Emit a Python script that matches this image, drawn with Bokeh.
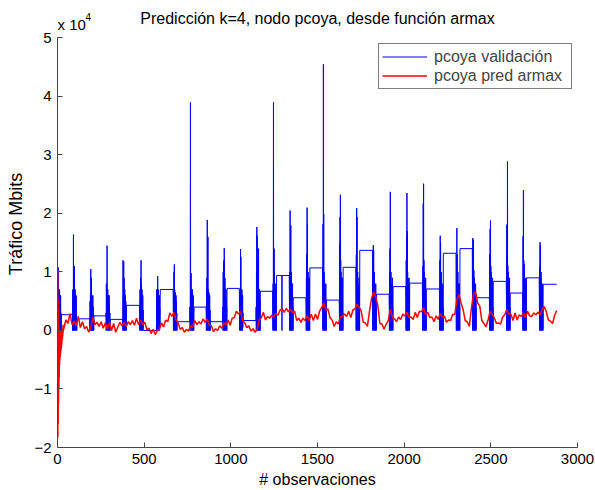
from bokeh.plotting import figure
from bokeh.models import Range1d, FixedTicker, Legend, LegendItem, Label
from bokeh.embed import file_html
from bokeh.resources import INLINE

# ---------------- data (values in units of 10^4 Mbits) ----------------
N_OBS = 2880

# start observation of each daily burst in the validation series
burst_start = [0, 86, 186, 280, 376, 474, 572, 668, 764, 858,
               954, 1050, 1146, 1242, 1338, 1434, 1530, 1626, 1722, 1818,
               1914, 2010, 2106, 2204, 2300, 2394, 2492, 2590, 2684, 2780]

# values inside each burst (one per observation)
burst_vals = [
    [0.35, 0.0, 0.75, 0.1, 1.08, 0.0, 0.6, 0.05, 0.7, 0.0, 0.5, 0.1, 0.7, 0.0, 0.4, 0.05, 0.5, 0.0, 0.6, 0.05, 0.3, 0.0],
    [0.3, 0.0, 0.7, 0.1, 0.55, 0.0, 1.64, 0.05, 0.6, 0.0, 0.5, 0.1, 1.1, 0.0, 0.6, 0.05, 0.7, 0.0, 0.5, 0.1, 0.55, 0.0, 0.6, 0.05, 0.3, 0.0],
    [0.2, 0.0, 0.5, 0.05, 0.6, 0.0, 1.05, 0.1, 0.5, 0.0, 0.9, 0.05, 0.6, 0.0, 0.5, 0.1, 0.45, 0.0, 0.6, 0.05, 0.4, 0.0, 0.3, 0.0],
    [0.3, 0.0, 0.8, 0.05, 0.5, 0.0, 1.45, 0.1, 0.6, 0.0, 0.7, 0.05, 0.45, 0.0, 0.6, 0.1, 0.5, 0.0, 0.6, 0.05, 0.4, 0.0, 0.3, 0.0],
    [0.2, 0.0, 1.2, 0.1, 0.6, 0.0, 1.18, 0.05, 0.9, 0.0, 0.6, 0.1, 0.7, 0.0, 0.5, 0.05, 0.6, 0.0, 0.5, 0.05, 0.4, 0.0],
    [0.3, 0.0, 0.7, 0.05, 0.5, 0.0, 0.9, 0.1, 1.2, 0.0, 0.8, 0.05, 0.6, 0.0, 0.7, 0.05, 0.5, 0.0, 0.6, 0.05, 0.35, 0.0],
    [0.7, 0.0, 0.5, 0.05, 0.7, 0.0, 0.93, 0.05, 0.6, 0.0, 0.7, 0.1, 0.6, 0.0, 0.5, 0.05, 0.6, 0.0, 0.4, 0.05, 0.3],
    [0.3, 0.0, 0.6, 0.1, 1.0, 0.0, 1.13, 0.05, 0.7, 0.0, 0.6, 0.1, 0.65, 0.0, 0.5, 0.05, 0.6, 0.0, 0.5, 0.05, 0.3, 0.0],
    [0.4, 0.0, 0.6, 3.9, 0.1, 0.5, 0.0, 0.98, 0.05, 0.6, 0.0, 0.7, 0.1, 0.6, 0.0, 0.7, 0.05, 0.5, 0.0, 0.6, 0.05, 0.4, 0.0, 0.3],
    [0.3, 0.0, 0.68, 0.05, 0.9, 0.0, 1.89, 0.1, 0.7, 0.0, 1.6, 0.05, 0.7, 0.0, 0.6, 0.1, 0.65, 0.0, 0.5, 0.05, 0.6, 0.0, 0.35, 0.0],
    [0.4, 0.0, 1.0, 0.05, 1.15, 0.0, 1.2, 0.1, 1.41, 0.0, 0.8, 0.05, 0.9, 0.0, 0.7, 0.05, 0.6, 0.0, 0.7, 0.05, 0.5, 0.0, 0.4, 0.0],
    [0.3, 0.0, 0.55, 0.1, 0.7, 0.0, 1.39, 0.05, 1.26, 0.0, 0.7, 0.1, 0.6, 0.0, 0.7, 0.05, 0.5, 0.0, 0.6, 0.05, 0.3],
    [0.4, 0.0, 1.0, 0.05, 1.77, 0.0, 1.62, 0.1, 1.2, 0.0, 0.8, 0.05, 0.9, 0.0, 1.4, 0.1, 0.7, 0.0, 0.6, 0.05, 0.7, 0.0, 0.5, 0.0],
    [0.3, 0.0, 0.8, 0.05, 3.9, 0.0, 0.9, 0.1, 1.4, 0.0, 1.0, 0.05, 0.8, 0.0, 0.7, 0.05, 0.6, 0.0, 0.8, 0.05, 0.5, 0.0],
    [0.5, 0.0, 1.0, 0.05, 2.05, 0.0, 1.4, 0.1, 1.8, 0.0, 0.9, 0.05, 1.0, 0.0, 0.8, 0.05, 0.6, 0.0, 0.8, 0.05, 0.4, 0.0],
    [0.4, 0.0, 0.9, 0.05, 1.3, 0.0, 2.1, 0.1, 1.82, 0.0, 0.9, 0.05, 1.0, 0.0, 0.8, 0.05, 0.6, 0.0, 0.9, 0.05, 0.4, 0.0],
    [0.5, 0.0, 1.82, 0.05, 4.55, 0.0, 1.99, 0.1, 1.0, 0.0, 0.9, 0.05, 0.8, 0.0, 0.7, 0.05, 0.5, 0.0, 0.8, 0.05, 0.3, 0.0],
    [0.4, 0.0, 1.48, 0.05, 1.94, 0.0, 2.32, 0.1, 1.2, 0.0, 1.0, 0.05, 0.9, 0.0, 0.8, 0.05, 0.6, 0.0, 0.9, 0.05, 0.3, 0.0],
    [0.5, 0.0, 1.3, 0.05, 2.09, 0.0, 1.94, 0.1, 0.9, 0.0, 1.0, 0.05, 0.8, 0.0, 0.7, 0.05, 0.5, 0.0, 0.9, 0.05, 0.4, 0.0],
    [0.6, 0.0, 1.1, 0.05, 1.46, 0.0, 1.37, 0.1, 0.9, 0.0, 1.0, 0.05, 0.8, 0.0, 0.6, 0.05, 0.5, 0.0, 0.8, 0.05, 0.4, 0.0],
    [0.4, 0.0, 1.0, 0.05, 1.4, 0.0, 2.37, 0.1, 0.9, 0.0, 1.0, 0.05, 0.8, 0.0, 0.7, 0.05, 0.5, 0.0, 0.9, 0.05, 0.4, 0.0],
    [0.5, 0.0, 1.2, 0.05, 1.62, 0.0, 2.35, 0.1, 1.7, 0.0, 1.0, 0.05, 0.9, 0.0, 0.8, 0.05, 0.6, 0.0, 0.9, 0.05, 0.4, 0.0],
    [0.4, 0.0, 1.1, 0.05, 2.17, 0.0, 2.51, 0.1, 1.2, 0.0, 1.0, 0.05, 0.9, 0.0, 0.7, 0.05, 0.5, 0.0, 0.9, 0.05, 0.5, 0.0],
    [0.6, 0.0, 1.2, 0.05, 1.62, 0.0, 1.49, 0.1, 0.9, 0.0, 1.0, 0.05, 0.8, 0.0, 0.6, 0.05, 0.4, 0.0, 0.8, 0.05, 0.4, 0.0],
    [0.5, 0.0, 1.0, 0.05, 1.75, 0.0, 1.3, 0.1, 0.8, 0.0, 1.0, 0.05, 0.8, 0.0, 0.6, 0.05, 0.4, 0.0, 0.8, 0.05, 0.4, 0.0],
    [0.6, 0.0, 1.58, 0.05, 1.2, 0.0, 1.55, 0.1, 1.03, 0.0, 0.9, 0.05, 0.8, 0.0, 0.7, 0.05, 0.5, 0.0, 0.8, 0.05, 0.4, 0.0],
    [0.5, 0.0, 1.3, 0.05, 1.74, 0.0, 1.88, 0.1, 1.1, 0.0, 1.0, 0.05, 0.8, 0.0, 0.7, 0.05, 0.5, 0.0, 0.9, 0.05, 0.4, 0.0],
    [0.6, 0.0, 1.81, 0.05, 1.3, 0.0, 2.89, 0.1, 1.11, 0.0, 1.0, 0.05, 0.9, 0.0, 0.8, 0.05, 0.5, 0.0, 0.9, 0.05, 0.4, 0.0],
    [0.5, 0.0, 1.61, 0.05, 2.4, 0.0, 1.2, 0.1, 1.14, 0.0, 1.0, 0.05, 0.9, 0.0, 0.8, 0.05, 0.5, 0.0, 0.9, 0.05, 0.4, 0.0],
    [0.5, 0.0, 1.1, 0.05, 1.51, 0.0, 1.44, 0.1, 0.9, 0.0, 1.0, 0.05, 0.8, 0.0, 0.6, 0.05, 0.4, 0.0, 0.8, 0.05, 0.4, 0.0],
]

# level held after each burst until the next one
plateau = [0.27, 0.20, 0.25, 0.19, 0.43, 0.0, 0.70, 0.15, 0.40, 0.15,
           0.72, 0.17, 0.67, 0.94, 0.56, 1.07, 0.52, 1.08, 1.37, 0.62,
           0.75, 0.81, 0.71, 1.32, 1.40, 0.56, 0.84, 0.64, 0.90, 0.79]

# isolated drops inside a plateau: day -> [(obs, value), ...]
plateau_drops = {13: [(1294, 0.94), (1295, 0.0), (1296, 0.94)]}

# ARMAX prediction: first observations (obs 0..35), then every 12 obs from 36 to 2880
red_head = [0.3, 1.0, -1.83, 0.55, -1.6, 0.4, -1.25, 0.1, -1.0, 0.0, -0.8, -0.05,
            -0.6, 0.0, -0.5, -0.1, -0.45, 0.0, -0.4, -0.05, -0.35, -0.1, -0.3, 0.0,
            -0.25, -0.05, -0.2, 0.0, -0.15, 0.05, -0.1, 0.05, -0.05, 0.1, 0.0, 0.1]
RED_STEP = 12
red_vals = [
    0.02, 0.18, 0.12, 0.29, 0.1,
    0.16, 0.08, 0.24, 0.05, 0.15, 0.03, 0.07, -0.03,
    0.06, 0.23, 0.1, 0.14, 0.07, 0.15, 0.04, 0.13,
    0.03, 0.14, 0.0, 0.12, -0.03, 0.06, 0.14, 0.08,
    0.14, 0.06, 0.15, 0.1, 0.17, 0.09, 0.21, 0.1,
    0.18, 0.1, 0.14, 0.01, 0.04, -0.05, 0.02, -0.07,
    0.0, 0.02, 0.13, 0.06, 0.18, 0.15, 0.3, 0.24,
    0.31, 0.18, 0.13, 0.02, 0.05, -0.03, 0.02, -0.01,
    0.08, 0.06, 0.17, 0.1, 0.15, 0.11, 0.2, 0.14,
    0.2, 0.09, 0.08, -0.02, 0.03, 0.0, 0.08, 0.04,
    0.13, 0.1, 0.18, 0.09, 0.21, 0.22, 0.33, 0.28,
    0.33, 0.17, 0.13, 0.05, 0.08, -0.01, 0.03, -0.03,
    0.02, 0.18, 0.22, 0.31, 0.18, 0.24, 0.21, 0.26,
    0.24, 0.29, 0.26, 0.35, 0.37, 0.31, 0.38, 0.32,
    0.37, 0.31, 0.33, 0.17, 0.21, 0.14, 0.21, 0.17,
    0.25, 0.17, 0.28, 0.17, 0.28, 0.19, 0.33, 0.39,
    0.47, 0.35, 0.37, 0.22, 0.18, 0.07, 0.15, 0.11,
    0.23, 0.25, 0.28, 0.24, 0.33, 0.22, 0.35, 0.37,
    0.45, 0.4, 0.33, 0.14, 0.13, 0.07, 0.33, 0.55,
    0.66, 0.57, 0.43, 0.12, 0.11, 0.02, 0.11, 0.17,
    0.36, 0.22, 0.2, 0.15, 0.23, 0.19, 0.28, 0.25,
    0.31, 0.22, 0.23, 0.19, 0.31, 0.22, 0.33, 0.32,
    0.39, 0.27, 0.31, 0.22, 0.23, 0.15, 0.25, 0.19,
    0.29, 0.23, 0.25, 0.14, 0.18, 0.17, 0.28, 0.27,
    0.52, 0.62, 0.47, 0.36, 0.17, 0.15, 0.07, 0.38,
    0.63, 0.66, 0.47, 0.42, 0.17, 0.12, 0.06, 0.18,
    0.33, 0.27, 0.22, 0.12, 0.13, 0.11, 0.23, 0.27,
    0.36, 0.28, 0.28, 0.17, 0.3, 0.18, 0.27, 0.24,
    0.3, 0.22, 0.33, 0.25, 0.24, 0.3, 0.27, 0.31,
    0.27, 0.36, 0.41, 0.32, 0.18, 0.16, 0.12, 0.26,
    0.34,
]

y_ticks = [-2, -1, 0, 1, 2, 3, 4, 5]
y_tick_labels = ["\u22122", "\u22121", "0", "1", "2", "3", "4", "5"]
x_ticks = [0, 500, 1000, 1500, 2000, 2500, 3000]

# ---------------- build series ----------------
blue_x, blue_y = [], []
for d, (s, vals) in enumerate(zip(burst_start, burst_vals)):
    for i, v in enumerate(vals):
        blue_x.append(s + i)
        blue_y.append(v)
    end = burst_start[d + 1] - 1 if d + 1 < len(burst_start) else N_OBS
    blue_x.append(s + len(vals))
    blue_y.append(plateau[d])
    for ox, oy in plateau_drops.get(d, []):
        blue_x.append(ox)
        blue_y.append(oy)
    blue_x.append(end)
    blue_y.append(plateau[d])

red_x = list(range(len(red_head))) + [len(red_head) + RED_STEP * i for i in range(len(red_vals))]
red_y = red_head + red_vals

# ---------------- figure ----------------
FONT = "Liberation Sans"
# frame reaches the top of the canvas so that title and exponent can sit inside it;
# the y axis itself is limited to [-2, 5]
p = figure(width=595, height=490, output_backend="svg", toolbar_location=None,
           x_range=Range1d(0, 3000), y_range=Range1d(-2, 5.641),
           min_border_left=57, min_border_right=18, min_border_top=0, min_border_bottom=43)
p.outline_line_color = None
p.grid.visible = False
p.background_fill_color = "white"
p.border_fill_color = "white"

r_blue = p.line(blue_x, blue_y, line_color="#0000ff", line_width=1)
r_red = p.line(red_x, red_y, line_color="#ff0000", line_width=1.5)

for ax in (p.xaxis[0], p.yaxis[0]):
    ax.axis_line_color = "#444444"
    ax.major_tick_line_color = "#444444"
    ax.major_tick_in = 5
    ax.major_tick_out = 0
    ax.minor_tick_line_color = None
    ax.major_label_text_font = FONT
    ax.major_label_text_font_size = "15px"
    ax.major_label_text_color = "black"
    ax.axis_label_text_font = FONT
    ax.axis_label_text_font_style = "normal"
    ax.axis_label_text_color = "black"

p.xaxis.axis_label_text_font_size = "16px"
p.yaxis.axis_label_text_font_size = "18px"
p.yaxis.bounds = (-2, 5)
p.xaxis.ticker = FixedTicker(ticks=x_ticks)
p.yaxis.ticker = FixedTicker(ticks=y_ticks)
p.yaxis.major_label_overrides = {t: l for t, l in zip(y_ticks, y_tick_labels)}
p.xaxis.axis_label = "# observaciones"
p.yaxis.axis_label = "Tráfico Mbits"
p.xaxis.major_label_standoff = 6
p.xaxis.axis_label_standoff = 4
p.yaxis.major_label_standoff = 6
p.yaxis.axis_label_standoff = 5

# title and exponent (screen units measured from the frame's bottom-left corner)
p.add_layout(Label(x=1500, y=429, x_units="data", y_units="screen",
                   text="Predicción k=4, nodo pcoya, desde función armax",
                   text_font=FONT, text_font_size="16px", text_align="center",
                   text_baseline="alphabetic", text_color="black"))
p.add_layout(Label(x=0, y=423, x_units="screen", y_units="screen", text="x 10",
                   text_font=FONT, text_font_size="15px", text_align="left",
                   text_baseline="alphabetic", text_color="black"))
p.add_layout(Label(x=28, y=431, x_units="screen", y_units="screen", text="4",
                   text_font=FONT, text_font_size="10px", text_align="left",
                   text_baseline="alphabetic", text_color="black"))

legend = Legend(items=[LegendItem(label="pcoya validación", renderers=[r_blue]),
                       LegendItem(label="pcoya pred armax", renderers=[r_red])],
                location=(321, 358), padding=3, spacing=0, margin=0,
                glyph_width=45, glyph_height=19, label_height=19, label_width=134,
                label_standoff=7,
                label_text_font=FONT, label_text_font_size="16px",
                border_line_color="black", border_line_width=1,
                background_fill_color="white", background_fill_alpha=1.0)
p.add_layout(legend)

open("out.html", "w").write(file_html(p, INLINE))
